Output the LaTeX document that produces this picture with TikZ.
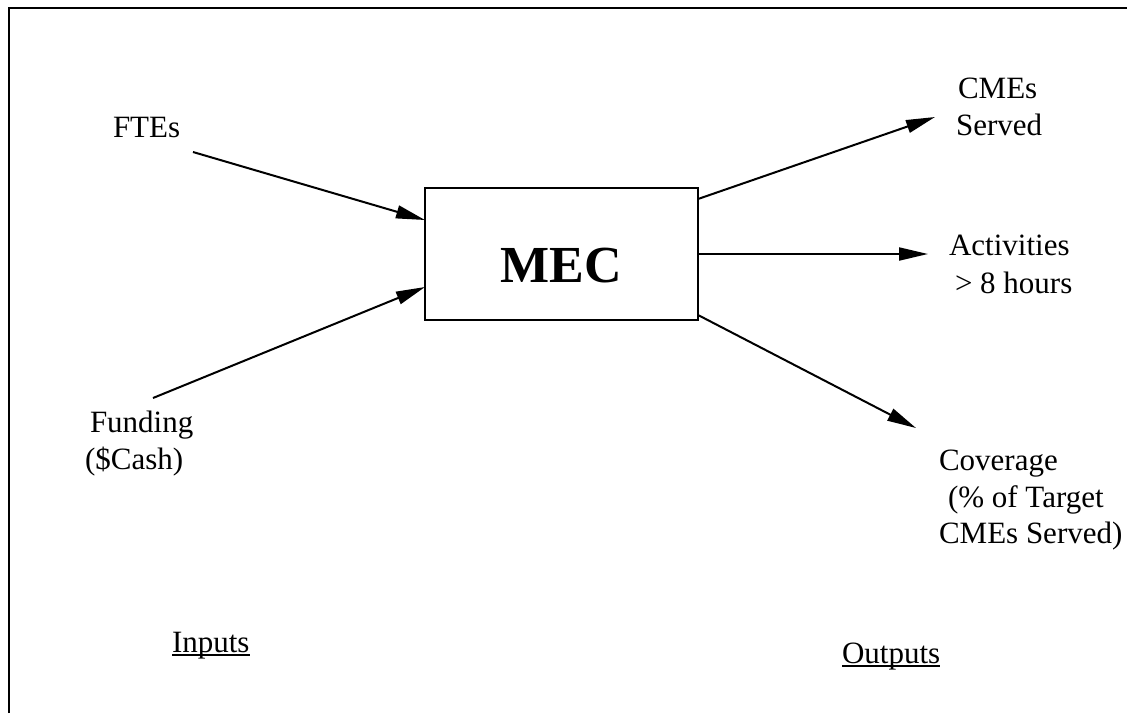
\documentclass[tikz,border=0pt]{standalone}
\usepackage{fontspec}
\setmainfont{Liberation Serif}
\usetikzlibrary{arrows.meta}
\begin{document}
\begin{tikzpicture}[x=1pt,y=-1pt,
  lbl/.style={anchor=base west,inner sep=0pt,outer sep=0pt,font=\fontsize{31}{37}\selectfont},
  conn/.style={line width=2pt,-{Triangle[length=29pt,width=13pt]}},
  frameline/.style={line width=2.6pt},
  uline/.style={line width=1.2pt}]
\useasboundingbox (0,0) rectangle (1142,713);
% frame
\draw[frameline] (9,713) -- (9,8) -- (1127,8);
% central box
\node[draw,line width=2pt,minimum width=273pt,minimum height=132pt,inner sep=0pt,outer sep=0pt] (mec) at (561.5,254) {};
\node[anchor=base,inner sep=0pt,font=\fontsize{52}{60}\selectfont\bfseries] (meclabel) at (561.5,282) {MEC};
% inputs
\node[lbl] (ftes) at (113,137) {FTEs};
\node[lbl] (funding) at (90,432) {Funding};
\node[lbl] (cash) at (85,469) {(\$Cash)};
\node[lbl] (inputs) at (172,652) {Inputs};
\draw[uline] ([yshift=-3pt]inputs.base west) -- ([yshift=-3pt]inputs.base east);
% outputs
\node[lbl] (cmes) at (958,98) {CMEs};
\node[lbl] (served) at (956,135) {Served};
\node[lbl] (activities) at (949,255) {Activities};
\node[lbl] (hours) at (955,293) {> 8 hours};
\node[lbl] (coverage) at (939,470) {Coverage};
\node[lbl] (target) at (948,507) {(\% of Target};
\node[lbl] (cmesserved) at (939,543) {CMEs Served)};
\node[lbl] (outputs) at (842,663) {Outputs};
\draw[uline] ([yshift=-3pt]outputs.base west) -- ([yshift=-3pt]outputs.base east);
% free ends
\coordinate (ftesStart) at (193,152);
\coordinate (fundStart) at (153,398);
\coordinate (cmesTip) at (935,117);
\coordinate (actTip) at (928,254);
\coordinate (covTip) at (916,428);
% connectors
\draw[conn] (ftesStart) -- ([yshift=-32pt]mec.north west);
\draw[conn] (fundStart) -- ([yshift=33pt]mec.south west);
\draw[conn] ([yshift=-11pt]mec.north east) -- (cmesTip);
\draw[conn] (mec.east) -- (actTip);
\draw[conn] ([yshift=5pt]mec.south east) -- (covTip);
\end{tikzpicture}
\end{document}
